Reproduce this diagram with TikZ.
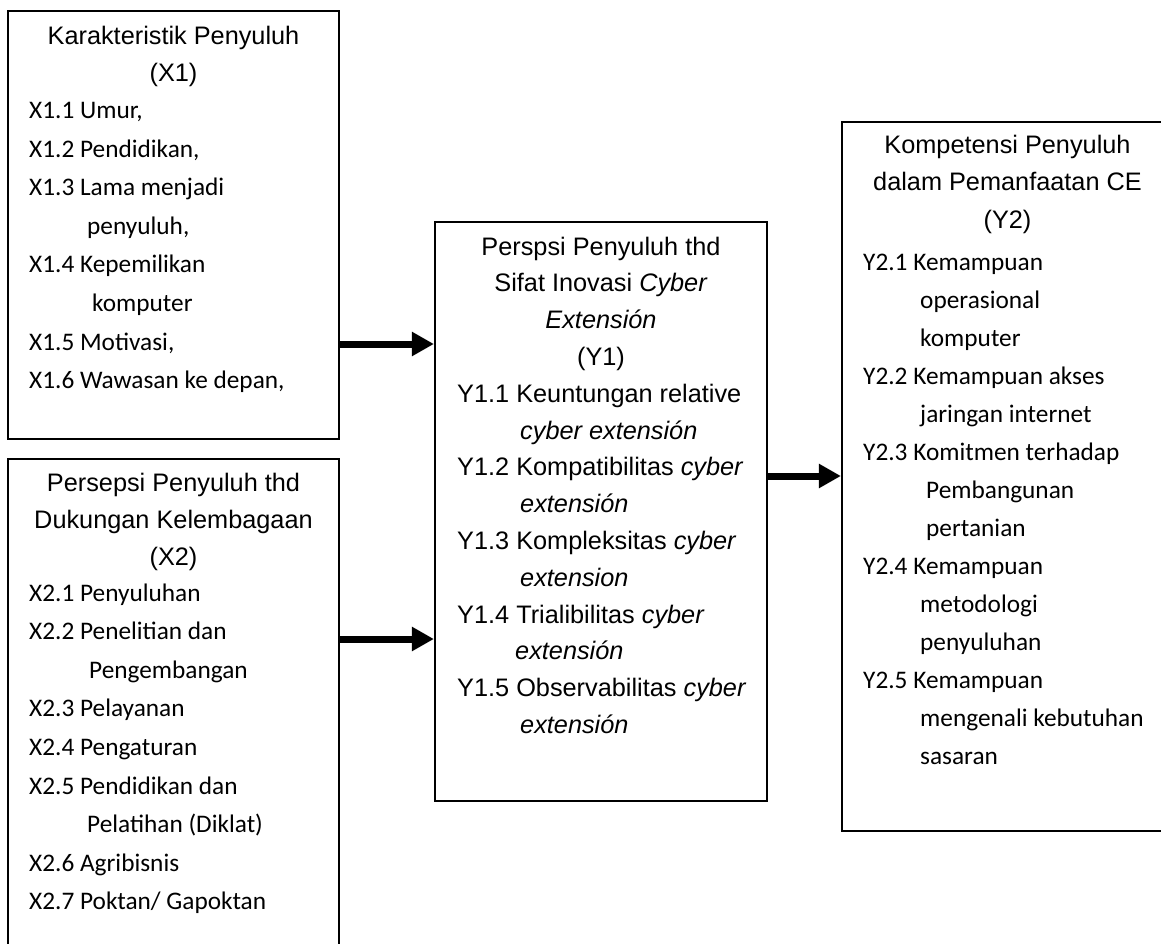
\documentclass[tikz,border=0pt]{standalone}
\usepackage{fontspec}
\setmainfont{Liberation Sans}
\newfontfamily\calib{Carlito}
\usetikzlibrary{arrows.meta}
\begin{document}
\begin{tikzpicture}[x=1pt,y=-1pt,
  box/.style={draw, line width=2.2pt, rectangle, inner sep=0pt},
  arr/.style={line width=7pt, -{Triangle[length=22pt,width=23pt]}},
  ttl/.style={anchor=base, inner sep=0pt, font=\fontsize{25.3}{30}\selectfont},
  itm/.style={anchor=base west, inner sep=0pt, font=\calib\fontsize{25.3}{30}\selectfont},
  itma/.style={anchor=base west, inner sep=0pt, font=\fontsize{25.3}{30}\selectfont}]
\useasboundingbox (0,0) rectangle (1161,944);
\clip (0,0) rectangle (1161,944);
% boxes
\node[box, minimum width=331pt, minimum height=428pt] (X1) at (173.5,225) {};
\node[box, minimum width=331pt, minimum height=560pt] (X2) at (173.5,739) {};
\node[box, minimum width=332pt, minimum height=579pt] (Y1) at (601,511.5) {};
\node[box, minimum width=331pt, minimum height=709pt] (Y2) at (1007.5,476.5) {};
% X1 texts
\node[ttl] (x1t1) at (173.5,45) {Karakteristik Penyuluh};
\node[ttl] (x1t2) at (173.5,82) {(X1)};
\foreach \dx/\t [count=\i from 0] in {0/{X1.1 Umur,}, 0/{X1.2 Pendidikan,}, 0/{X1.3 Lama menjadi}, 58/{penyuluh,}, 0/{X1.4 Kepemilikan}, 63/{komputer}, 0/{X1.5 Motivasi,}, 0/{X1.6 Wawasan ke depan,}}
  \node[itm] (x1i\i) at (29+\dx,118.5+38.6*\i) {\t};
% X2 texts
\node[ttl] (x2t1) at (173.5,491) {Persepsi Penyuluh thd};
\node[ttl] (x2t2) at (173.5,528) {Dukungan Kelembagaan};
\node[ttl] (x2t3) at (173.5,565) {(X2)};
\foreach \dx/\t [count=\i from 0] in {0/{X2.1 Penyuluhan}, 0/{X2.2 Penelitian dan}, 60/{Pengembangan}, 0/{X2.3 Pelayanan}, 0/{X2.4 Pengaturan}, 0/{X2.5 Pendidikan dan}, 58/{Pelatihan (Diklat)}, 0/{X2.6 Agribisnis}, 0/{X2.7 Poktan/ Gapoktan}}
  \node[itm] (x2i\i) at (29+\dx,601+38.6*\i) {\t};
% Y1 texts
\node[ttl] (y1t1) at (601,255) {Perspsi Penyuluh thd};
\node[ttl] (y1t2) at (601,291.8) {Sifat Inovasi \textit{Cyber}};
\node[ttl] (y1t3) at (601,328.6) {\textit{Extensión}};
\node[ttl] (y1t4) at (601,365.4) {(Y1)};
\foreach \dx/\t [count=\i from 0] in {0/{Y1.1 Keuntungan relative}, 63/{\textit{cyber extensión}}, 0/{Y1.2 Kompatibilitas \textit{cyber}}, 63/{\textit{extensión}}, 0/{Y1.3 Kompleksitas \textit{cyber}}, 63/{\textit{extension}}, 0/{Y1.4 Trialibilitas \textit{cyber}}, 58/{\textit{extensión}}, 0/{Y1.5 Observabilitas \textit{cyber}}, 63/{\textit{extensión}}}
  \node[itma] (y1i\i) at (457+\dx,402.2+36.8*\i) {\t};
% Y2 texts
\node[ttl] (y2t1) at (1007.5,154) {Kompetensi Penyuluh};
\node[ttl] (y2t2) at (1007.5,191) {dalam Pemanfaatan CE};
\node[ttl] (y2t3) at (1007.5,228) {(Y2)};
\foreach \dx/\t [count=\i from 0] in {0/{Y2.1 Kemampuan}, 57/{operasional}, 57/{komputer}, 0/{Y2.2 Kemampuan akses}, 57/{jaringan internet}, 0/{Y2.3 Komitmen terhadap}, 63/{Pembangunan}, 63/{pertanian}, 0/{Y2.4 Kemampuan}, 57/{metodologi}, 57/{penyuluhan}, 0/{Y2.5 Kemampuan}, 57/{mengenali kebutuhan}, 57/{sasaran}}
  \node[itm] (y2i\i) at (863+\dx,270+38*\i) {\t};
% connectors
\coordinate (r1) at (0,344);
\coordinate (r2) at (0,639);
\coordinate (r3) at (0,476);
\draw[arr] (X1.east |- r1) -- (Y1.west |- r1);
\draw[arr] (X2.east |- r2) -- (Y1.west |- r2);
\draw[arr] (Y1.east |- r3) -- (Y2.west |- r3);
\end{tikzpicture}
\end{document}
